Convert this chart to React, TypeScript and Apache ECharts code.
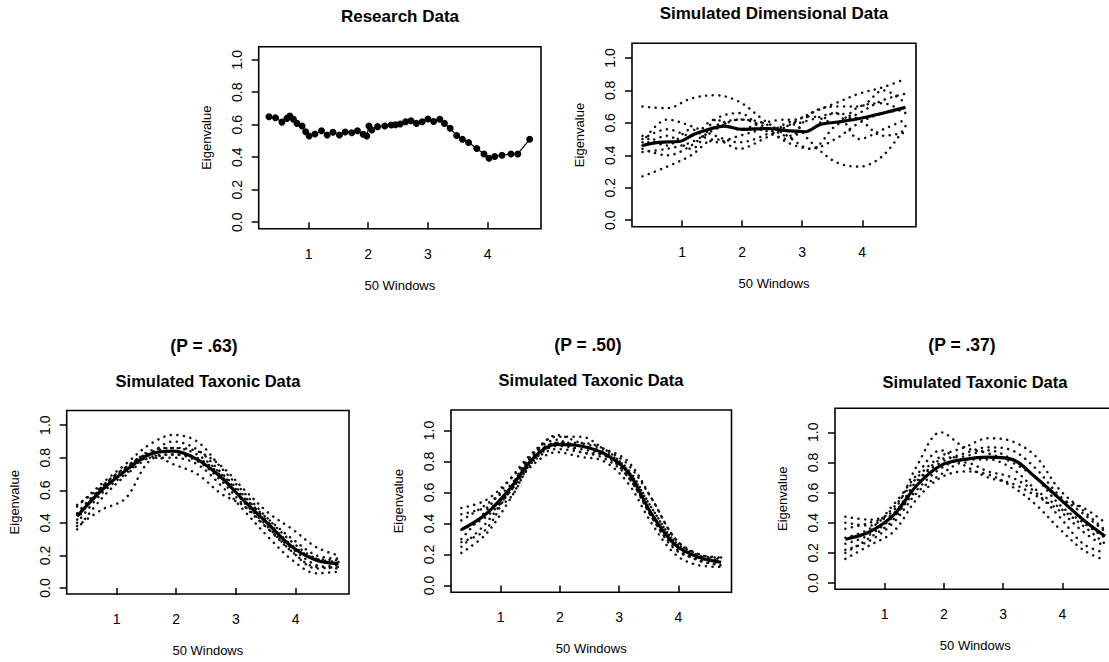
import React, { useEffect, useRef } from "react";
import * as echarts from "echarts";

// ---------- data ----------
const researchX = [0.337, 0.446, 0.554, 0.639, 0.687, 0.747, 0.807, 0.892, 0.952, 1.01, 1.108, 1.217, 1.313, 1.41, 1.518, 1.614, 1.723, 1.82, 1.916, 1.976, 2.012, 2.06, 2.157, 2.277, 2.386, 2.458, 2.536, 2.627, 2.717, 2.807, 2.904, 3.0, 3.096, 3.199, 3.277, 3.373, 3.482, 3.578, 3.681, 3.819, 3.94, 4.024, 4.12, 4.241, 4.392, 4.506, 4.705];
const researchY = [0.649, 0.643, 0.616, 0.639, 0.653, 0.633, 0.608, 0.592, 0.557, 0.531, 0.543, 0.563, 0.537, 0.553, 0.537, 0.555, 0.551, 0.563, 0.541, 0.531, 0.592, 0.567, 0.588, 0.592, 0.598, 0.6, 0.604, 0.618, 0.624, 0.608, 0.618, 0.635, 0.62, 0.633, 0.608, 0.578, 0.533, 0.51, 0.49, 0.453, 0.42, 0.394, 0.404, 0.412, 0.42, 0.42, 0.51];

const simX = [0.34, 0.75, 1.15, 1.55, 1.95, 2.35, 2.75, 3.15, 3.55, 3.95, 4.35, 4.72];

const dimMeanX = [0.34, 0.6, 0.95, 1.2, 1.45, 1.7, 2.0, 2.4, 2.8, 3.05, 3.3, 3.6, 4.0, 4.4, 4.72];
const dimMeanY = [0.46, 0.48, 0.485, 0.53, 0.56, 0.58, 0.56, 0.565, 0.55, 0.545, 0.59, 0.605, 0.63, 0.665, 0.695];
const dimSims = [
  [0.7, 0.69, 0.75, 0.77, 0.73, 0.62, 0.52, 0.44, 0.5, 0.6, 0.66, 0.68],
  [0.27, 0.33, 0.4, 0.5, 0.44, 0.5, 0.58, 0.66, 0.72, 0.78, 0.82, 0.87],
  [0.5, 0.56, 0.52, 0.62, 0.56, 0.6, 0.62, 0.48, 0.36, 0.33, 0.4, 0.58],
  [0.42, 0.44, 0.48, 0.56, 0.62, 0.6, 0.52, 0.56, 0.66, 0.62, 0.52, 0.54],
  [0.48, 0.62, 0.58, 0.52, 0.48, 0.52, 0.6, 0.64, 0.6, 0.7, 0.72, 0.66],
  [0.44, 0.4, 0.46, 0.58, 0.62, 0.58, 0.48, 0.44, 0.58, 0.66, 0.74, 0.78],
  [0.52, 0.46, 0.56, 0.48, 0.52, 0.56, 0.58, 0.62, 0.66, 0.5, 0.56, 0.62],
  [0.46, 0.52, 0.44, 0.62, 0.66, 0.56, 0.5, 0.66, 0.7, 0.7, 0.8, 0.72],
];

const tax63Mean = [0.44, 0.6, 0.72, 0.82, 0.84, 0.79, 0.68, 0.53, 0.39, 0.25, 0.17, 0.15];
const tax63Sims = [
  [0.38, 0.48, 0.55, 0.78, 0.82, 0.78, 0.66, 0.5, 0.36, 0.24, 0.14, 0.12],
  [0.5, 0.64, 0.76, 0.88, 0.94, 0.9, 0.74, 0.58, 0.42, 0.28, 0.18, 0.16],
  [0.46, 0.62, 0.74, 0.83, 0.86, 0.84, 0.75, 0.6, 0.46, 0.36, 0.25, 0.2],
  [0.4, 0.58, 0.7, 0.8, 0.8, 0.76, 0.63, 0.47, 0.31, 0.17, 0.09, 0.1],
  [0.42, 0.62, 0.74, 0.82, 0.76, 0.7, 0.58, 0.5, 0.36, 0.22, 0.13, 0.14],
  [0.51, 0.62, 0.73, 0.84, 0.86, 0.82, 0.7, 0.55, 0.42, 0.3, 0.2, 0.18],
  [0.36, 0.55, 0.69, 0.8, 0.82, 0.8, 0.69, 0.52, 0.37, 0.22, 0.12, 0.13],
  [0.45, 0.6, 0.72, 0.82, 0.9, 0.85, 0.71, 0.56, 0.4, 0.26, 0.18, 0.17],
];

const tax50Mean = [0.36, 0.46, 0.62, 0.82, 0.91, 0.9, 0.85, 0.73, 0.46, 0.26, 0.18, 0.15];
const tax50Sims = [
  [0.5, 0.55, 0.68, 0.84, 0.92, 0.9, 0.86, 0.75, 0.5, 0.28, 0.2, 0.18],
  [0.21, 0.33, 0.55, 0.8, 0.9, 0.88, 0.84, 0.72, 0.44, 0.24, 0.16, 0.13],
  [0.3, 0.48, 0.68, 0.86, 0.96, 0.96, 0.88, 0.78, 0.56, 0.3, 0.2, 0.17],
  [0.25, 0.4, 0.6, 0.78, 0.86, 0.83, 0.8, 0.66, 0.4, 0.2, 0.13, 0.12],
  [0.42, 0.52, 0.64, 0.84, 0.97, 0.92, 0.88, 0.8, 0.56, 0.3, 0.19, 0.16],
  [0.36, 0.44, 0.6, 0.8, 0.88, 0.86, 0.82, 0.7, 0.44, 0.23, 0.17, 0.15],
  [0.46, 0.5, 0.56, 0.82, 0.92, 0.92, 0.88, 0.74, 0.5, 0.28, 0.19, 0.18],
  [0.28, 0.36, 0.62, 0.85, 0.94, 0.86, 0.84, 0.7, 0.46, 0.26, 0.16, 0.14],
];

const tax37Mean = [0.29, 0.34, 0.45, 0.65, 0.78, 0.82, 0.835, 0.82, 0.7, 0.56, 0.42, 0.31];
const tax37Sims = [
  [0.44, 0.42, 0.48, 0.78, 1.0, 0.9, 0.86, 0.8, 0.7, 0.56, 0.5, 0.4],
  [0.16, 0.25, 0.34, 0.56, 0.7, 0.74, 0.72, 0.64, 0.52, 0.36, 0.22, 0.15],
  [0.3, 0.36, 0.5, 0.7, 0.84, 0.9, 0.96, 0.94, 0.84, 0.62, 0.48, 0.35],
  [0.22, 0.28, 0.4, 0.6, 0.72, 0.8, 0.74, 0.7, 0.6, 0.44, 0.26, 0.2],
  [0.36, 0.4, 0.46, 0.68, 0.8, 0.86, 0.9, 0.88, 0.76, 0.58, 0.46, 0.34],
  [0.26, 0.32, 0.44, 0.62, 0.76, 0.82, 0.82, 0.76, 0.62, 0.5, 0.38, 0.26],
  [0.2, 0.3, 0.42, 0.66, 0.82, 0.84, 0.88, 0.82, 0.7, 0.52, 0.4, 0.3],
  [0.4, 0.38, 0.52, 0.72, 0.88, 0.78, 0.7, 0.66, 0.58, 0.48, 0.34, 0.24],
];

const xTicks = [1, 2, 3, 4];
const yTicks = [0, 0.2, 0.4, 0.6, 0.8, 1.0];

const titles = ["Research Data", "Simulated Dimensional Data", "Simulated Taxonic Data", "Simulated Taxonic Data", "Simulated Taxonic Data"];
const pLabels = ["(P = .63)", "(P = .50)", "(P = .37)"];
const xName = "50 Windows";
const yName = "Eigenvalue";

// ---------- layout ----------
const FONT = "'Liberation Sans', Arial, Helvetica, sans-serif";
const boxes = [
  { left: 258.7, top: 46.7, width: 282.3, height: 182, yMin: -0.04, yMax: 1.08 },
  { left: 632, top: 43.3, width: 284, height: 183.4, yMin: -0.04, yMax: 1.09 },
  { left: 66.7, top: 410.5, width: 282.3, height: 183.5, yMin: -0.037, yMax: 1.09 },
  { left: 451, top: 410, width: 280.5, height: 182.3, yMin: -0.044, yMax: 1.132 },
  { left: 835, top: 408.3, width: 280.5, height: 181, yMin: -0.042, yMax: 1.159 },
];

const pair = (xs: number[], ys: number[]) => xs.map((x, i) => [x, ys[i]]);

function dotted(idx: number, ys: number[]) {
  return {
    type: "line",
    xAxisIndex: idx,
    yAxisIndex: idx,
    data: pair(simX, ys),
    smooth: 0.35,
    showSymbol: false,
    symbol: "none",
    silent: true,
    lineStyle: { color: "#111", width: 2.5, type: [0.1, 6.5], cap: "round" },
    z: 2,
  };
}
function thick(idx: number, xs: number[], ys: number[]) {
  return {
    type: "line",
    xAxisIndex: idx,
    yAxisIndex: idx,
    data: pair(xs, ys),
    smooth: 0.35,
    showSymbol: false,
    symbol: "none",
    silent: true,
    lineStyle: { color: "#000", width: 3.2 },
    z: 3,
  };
}

export default function App() {
  const ref = useRef<HTMLDivElement>(null);
  useEffect(() => {
    if (!ref.current) return;
    const chart = echarts.init(ref.current, null, { renderer: "svg" });
    const grid = boxes.map((b) => ({
      left: b.left,
      top: b.top,
      width: b.width,
      height: b.height,
      show: true,
      borderColor: "#000",
      borderWidth: 1.6,
      backgroundColor: "transparent",
      containLabel: false,
      outerBoundsMode: "none",
    }));
    const xAxis = boxes.map((b, i) => ({
      type: "value",
      gridIndex: i,
      min: 0.165,
      max: 4.895,
      name: xName,
      nameLocation: "middle",
      nameGap: 50,
      nameTextStyle: { fontFamily: FONT, fontSize: 13, color: "#000" },
      axisLine: { show: false },
      splitLine: { show: false },
      axisTick: { show: true, length: 7, inside: false, customValues: xTicks, lineStyle: { color: "#000", width: 1.5 } },
      axisLabel: { customValues: xTicks, margin: 18, fontFamily: FONT, fontSize: 14, color: "#000", formatter: (v: number) => String(v) },
    }));
    const yAxis = boxes.map((b, i) => ({
      type: "value",
      gridIndex: i,
      min: b.yMin,
      max: b.yMax,
      name: yName,
      nameLocation: "middle",
      nameGap: 46,
      nameRotate: 90,
      nameTextStyle: { fontFamily: FONT, fontSize: 13, color: "#000" },
      axisLine: { show: false },
      splitLine: { show: false },
      axisTick: { show: true, length: 7, inside: false, customValues: yTicks, lineStyle: { color: "#000", width: 1.5 } },
      axisLabel: { customValues: yTicks, rotate: 90, margin: 15, fontFamily: FONT, fontSize: 14, color: "#000", formatter: (v: number) => v.toFixed(1) },
    }));

    const series: any[] = [];
    series.push({
      type: "line",
      xAxisIndex: 0,
      yAxisIndex: 0,
      data: pair(researchX, researchY),
      symbol: "circle",
      symbolSize: 7,
      itemStyle: { color: "#000" },
      lineStyle: { color: "#000", width: 1.2 },
      silent: true,
    });
    dimSims.forEach((s) => series.push(dotted(1, s)));
    series.push(thick(1, dimMeanX, dimMeanY));
    tax63Sims.forEach((s) => series.push(dotted(2, s)));
    series.push(thick(2, simX, tax63Mean));
    tax50Sims.forEach((s) => series.push(dotted(3, s)));
    series.push(thick(3, simX, tax50Mean));
    tax37Sims.forEach((s) => series.push(dotted(4, s)));
    series.push(thick(4, simX, tax37Mean));

    const txt = (x: number, y: number, text: string, size: number) => ({
      type: "text",
      x,
      y,
      style: { text, fontFamily: FONT, fontSize: size, fontWeight: "bold", fill: "#000", textAlign: "center", textVerticalAlign: "middle" },
    });

    chart.setOption({
      animation: false,
      backgroundColor: "#fff",
      grid,
      xAxis,
      yAxis,
      series,
      graphic: [
        txt(400, 16, titles[0], 17),
        txt(774, 13.5, titles[1], 17),
        txt(204, 346, pLabels[0], 17.5),
        txt(208, 380.5, titles[2], 16.5),
        txt(588, 345, pLabels[1], 17.5),
        txt(591, 379.5, titles[3], 16.5),
        txt(962, 345, pLabels[2], 17.5),
        txt(975, 381.5, titles[4], 16.5),
      ],
    });
    return () => chart.dispose();
  }, []);
  return <div ref={ref} style={{ position: "absolute", left: 0, top: 0, width: 1109, height: 662 }} />;
}
